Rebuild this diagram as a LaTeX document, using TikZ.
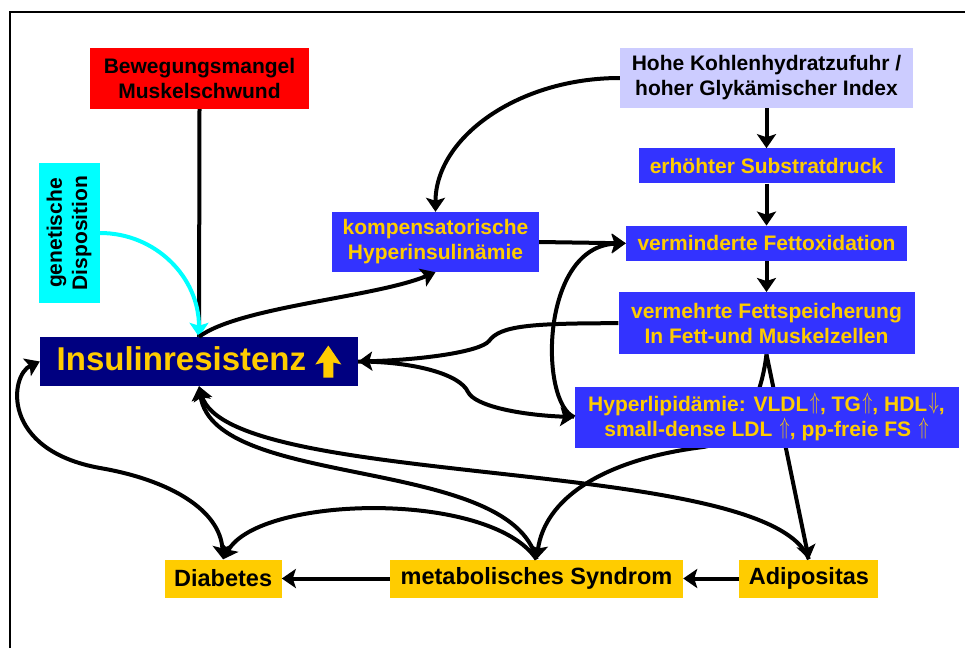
\documentclass[tikz,border=0pt]{standalone}
\usepackage{fontspec}
\setmainfont{Liberation Sans}
\usepackage{tikz}
\usetikzlibrary{positioning}
\usetikzlibrary{arrows.meta}
\usetikzlibrary{backgrounds}

\definecolor{boxred}{HTML}{FF0000}
\definecolor{boxcyan}{HTML}{00FFFF}
\definecolor{boxlav}{HTML}{CCCCFF}
\definecolor{boxblue}{HTML}{3333FF}
\definecolor{insnavy}{HTML}{000080}
\definecolor{boxgold}{HTML}{FFCC00}
\definecolor{txtyellow}{HTML}{FFCC00}

\newcommand{\uparr}{\kern1.5pt\raisebox{1.5pt}{\scalebox{0.8}[1.15]{$\Uparrow$}}}
\newcommand{\downarr}{\kern1.5pt\raisebox{1.5pt}{\scalebox{0.8}[1.15]{$\Downarrow$}}}
\newcommand{\insarrow}{\tikz[baseline=0pt]\fill[txtyellow] (-5pt,-7pt) -- (5pt,-7pt) -- (5pt,8pt) -- (13pt,6pt) -- (0pt,25pt) -- (-13pt,6pt) -- (-5pt,8pt) -- cycle;}

\begin{document}
\begin{tikzpicture}
		[x=1pt, y=-1pt,
		>={Stealth[length=14pt,width=19pt,inset=3pt]},
		box/.style={inner sep=0pt, align=center, font=\bfseries\fontsize{21}{25}\selectfont},
		bluebox/.style={box, fill=boxblue, text=txtyellow},
		goldbox/.style={box, fill=boxgold, minimum height=38pt, font=\bfseries\fontsize{23.5}{28}\selectfont},
		conn/.style={line width=4pt, ->}]
		\useasboundingbox (0,0) rectangle (965,648);
		\draw[line width=2pt] (10,648) -- (10,12) -- (965,12);

		\node[box, fill=boxred, minimum width=219pt, minimum height=61pt] (bew) at (199.5,78.5) {Bewegungsmangel\\Muskelschwund};
		\node[box, fill=boxcyan, minimum width=61pt, minimum height=140pt] (gen) at (69.5,233) {\rotatebox{90}{\begin{tabular}{@{}c@{}}genetische\\Disposition\end{tabular}}};
		\node[box, fill=insnavy, text=txtyellow, minimum width=318pt, minimum height=49pt, font=\bfseries\fontsize{33}{40}\selectfont] (ins) at (199,361.5) {Insulinresistenz \insarrow};
		\node[bluebox, minimum width=207pt, minimum height=60pt] (komp) at (435.5,242) {kompensatorische\\Hyperinsulinämie};
		\node[box, fill=boxlav, minimum width=293pt, minimum height=60pt] (hohe) at (766.5,78) {Hohe Kohlenhydratzufuhr /\\hoher Glykämischer Index};
		\node[bluebox, minimum width=256pt, minimum height=35pt, below=40pt of hohe] (erh) {erhöhter Substratdruck};
		\node[bluebox, minimum width=281pt, minimum height=35pt, below=42pt of erh] (verm) {verminderte Fettoxidation};
		\node[bluebox, minimum width=296pt, minimum height=62pt, below=31pt of verm] (fett) {vermehrte Fettspeicherung\\In Fett-und Muskelzellen};
		\node[bluebox, minimum width=384pt, minimum height=61pt, below=32pt of fett] (hyper) {Hyperlipidämie: VLDL\uparr, TG\uparr, HDL\downarr,\\small-dense LDL \uparr, pp-freie FS \uparr};
		\node[goldbox, minimum width=293pt] (met) at (536.5,578.5) {metabolisches Syndrom};
		\node[goldbox, minimum width=117pt, left=108pt of met] (dia) {Diabetes};
		\node[goldbox, minimum width=139pt, right=56pt of met] (adi) {Adipositas};

		% behind the Hyperlipidaemie box
		\begin{scope}[on background layer]
			\draw[conn] (fett.south) .. controls +(-5,40) and (745,440) .. (703,447) .. controls (600,460) and (545,500) .. (met.north);
			\draw[conn] (fett.south) -- (adi.north);
		\end{scope}

		\draw[line width=4pt] (bew.south) -- (ins.north);
		\draw[conn, draw=boxcyan] (gen.east) .. controls +(55,0) and +(0,-60) .. (ins.north);
		\draw[conn] (ins.north) .. controls +(40,-30) and +(-60,25) .. (komp.south);
		\draw[conn] (hohe.west) .. controls +(-102,0) and +(0,-74) .. (komp.north);
		\draw[conn] (hohe.south) -- (erh.north);
		\draw[conn] (erh.south) -- (verm.north);
		\draw[conn] (verm.south) -- (fett.north);
		\draw[conn] (komp.east) -- (verm.west);
		\draw[conn] (hyper.west) .. controls +(-35,-14) and +(-86,3) .. (verm.west);
		\draw[conn] (fett.west) .. controls +(-90,0) and (500,326) .. (489,341) .. controls (480,352) and (420,360) .. (ins.east);
		\draw[conn] (ins.east) .. controls +(55,0) and (460,374) .. (468,392) .. controls (475,406) and (520,415) .. (hyper.west);
		\draw[conn] (adi) -- (met);
		\draw[conn] (met) -- (dia);
		\draw[conn] (met.north) .. controls (490,490) and (260,495) .. (dia.north);
		\draw[conn] (met.north) .. controls (510,455) and (215,490) .. (ins.south);
		\draw[conn] (adi.north) .. controls (770,455) and (230,490) .. (ins.south);
		\draw[conn, <->] (ins.west) .. controls (10,375) and (0,450) .. (100,468) .. controls (170,480) and (220,510) .. (dia.north);
	\end{tikzpicture}
\end{document}
